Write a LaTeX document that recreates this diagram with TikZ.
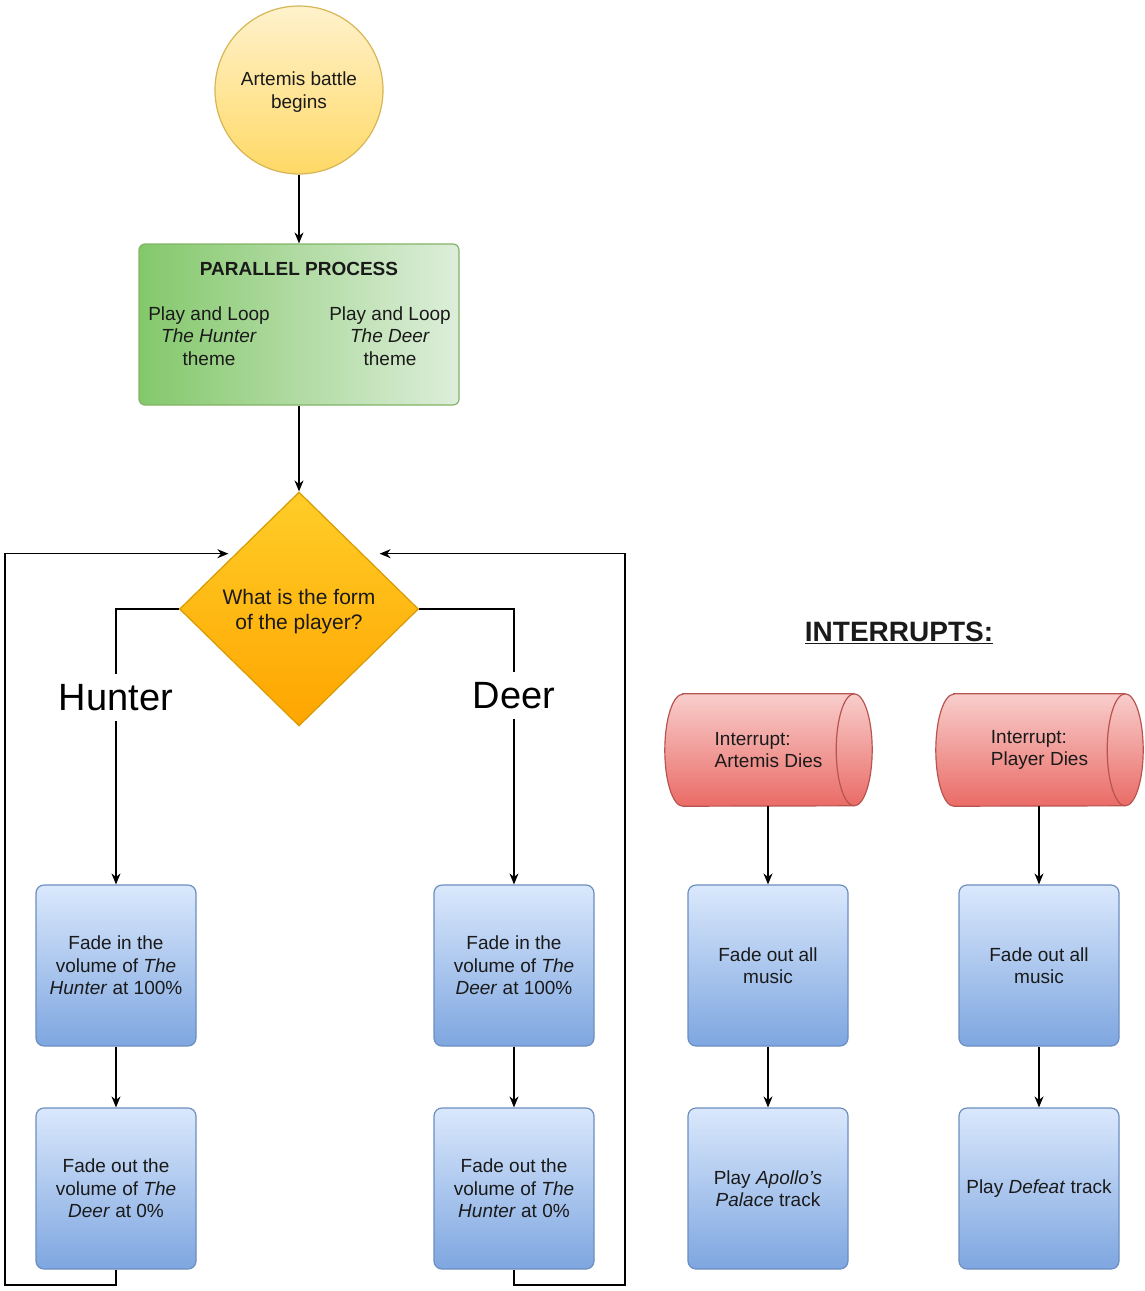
\documentclass[tikz,border=0pt]{standalone}
\usepackage{fontspec}
\setmainfont{Liberation Sans}
\usetikzlibrary{shapes.geometric,arrows.meta,calc,backgrounds}

\definecolor{yelTop}{HTML}{FFF2CC}
\definecolor{yelBot}{HTML}{FFD966}
\definecolor{yelLine}{HTML}{D6B656}
\definecolor{grnL}{HTML}{84C86B}
\definecolor{grnR}{HTML}{DDEEDA}
\definecolor{grnLine}{HTML}{82B366}
\definecolor{orTop}{HTML}{FFCD28}
\definecolor{orBot}{HTML}{FFA500}
\definecolor{orLine}{HTML}{D79B00}
\definecolor{redTop}{HTML}{F8CECC}
\definecolor{redBot}{HTML}{EA6B66}
\definecolor{redLine}{HTML}{B85450}
\definecolor{bluTop}{HTML}{DAE8FC}
\definecolor{bluBot}{HTML}{7EA6E0}
\definecolor{bluLine}{HTML}{6C8EBF}
\definecolor{txtcol}{HTML}{1A1A1A}

\begin{document}
\begin{tikzpicture}[x=1pt,y=-1pt,
  txt/.style={font=\fontsize{19}{22.5}\selectfont, align=center, text=txtcol},
  boldtxt/.style={font=\fontsize{19}{22.5}\selectfont\bfseries, align=center, text=txtcol},
  startnode/.style={circle, draw=yelLine, line width=1.2pt, top color=yelTop, bottom color=yelBot, minimum size=168pt, inner sep=0pt},
  parbox/.style={rectangle, rounded corners=6pt, draw=grnLine, line width=1.2pt, left color=grnL, right color=grnR, minimum width=320pt, minimum height=161pt},
  decide/.style={diamond, draw=orLine, line width=1.2pt, top color=orTop, bottom color=orBot, minimum width=239pt, minimum height=234pt, inner sep=0pt, aspect=1},
  dtxt/.style={font=\fontsize{21}{25}\selectfont, align=center, text=txtcol},
  stepbox/.style={rectangle, rounded corners=8pt, draw=bluLine, line width=1.2pt, top color=bluTop, bottom color=bluBot, minimum width=160pt, minimum height=161pt, txt},
  cylnode/.style={rectangle, minimum width=207pt, minimum height=112pt, inner sep=0pt, txt, align=left},
  conn/.style={line width=1.3pt, draw=black, -{Stealth[length=11pt,width=9pt]}},
  branchlbl/.style={fill=white, font=\fontsize{38}{40}\selectfont, inner xsep=2pt, inner ysep=10pt, text=black}
]
\useasboundingbox (0,0) rectangle (1144,1291);

% main flow
\node[startnode] (start) at (299,90) {};
\node[txt] (starttxt) at (299,92) {Artemis battle\\begins};
\node[parbox] (par) at (299,324.5) {};
\node[boldtxt] (partitle) at (299,269) {PARALLEL PROCESS};
\node[txt] (parl) at (209,336) {Play and Loop\\\textit{The Hunter}\\theme};
\node[txt] (parr) at (390,336) {Play and Loop\\\textit{The Deer}\\theme};
\node[decide] (dia) at (299,609) {};
\node[dtxt] (diatxt) at (299,612) {What is the form\\of the player?};

\node[stepbox] (h1) at (116,965.5) {Fade in the\\volume of \textit{The}\\\textit{Hunter} at 100\%};
\node[stepbox] (h2) at (116,1188.5) {Fade out the\\volume of \textit{The}\\\textit{Deer} at 0\%};
\node[stepbox] (d1) at (514,965.5) {Fade in the\\volume of \textit{The}\\\textit{Deer} at 100\%};
\node[stepbox] (d2) at (514,1188.5) {Fade out the\\volume of \textit{The}\\\textit{Hunter} at 0\%};

% interrupts
\node[font=\fontsize{28}{30}\selectfont\bfseries, text=txtcol] (intr) at (899,633) {\underline{INTERRUPTS:}};
\node[cylnode] (cyl1) at (768.5,750) {Interrupt:\\Artemis Dies};
\node[cylnode] (cyl2) at (1039.5,750) {Interrupt:\\Player Dies};
\begin{scope}[on background layer]
\foreach \c in {cyl1,cyl2} {
  \shade[top color=redTop, bottom color=redBot, draw=redLine, line width=1.2pt]
    ($(\c.north west)+(18,0)$) -- ($(\c.north east)+(-18,0)$)
    arc[start angle=-90, end angle=90, x radius=18, y radius=56]
    -- ($(\c.south west)+(18,0)$)
    arc[start angle=90, end angle=270, x radius=18, y radius=56] -- cycle;
  \draw[redLine, line width=1.2pt] ($(\c.north east)+(-18,0)$)
    arc[start angle=270, end angle=90, x radius=18, y radius=56];
}
\end{scope}
\node[stepbox] (a1) at (768,965.5) {Fade out all\\music};
\node[stepbox] (a2) at (768,1188.5) {Play \textit{Apollo's}\\\textit{Palace} track};
\node[stepbox] (p1) at (1039,965.5) {Fade out all\\music};
\node[stepbox] (p2) at (1039,1188.5) {Play \textit{Defeat} track};

% connectors
\draw[conn] (start) -- (par);
\draw[conn] (par) -- (dia);
\draw[conn] (dia.west) -| node[branchlbl, pos=0.661] {Hunter} (h1.north);
\draw[conn] (dia.east) -| node[branchlbl, pos=0.657] {Deer} (d1.north);
\draw[conn] (h1) -- (h2);
\draw[conn] (d1) -- (d2);
\coordinate (lloop) at (5,1285);
\coordinate (rloop) at (625,1285);
\draw[conn, shorten >=7pt] (h2.south) |- (lloop) |- (dia.139);
\draw[conn, shorten >=17pt] (d2.south) |- (rloop) |- (dia.41);

\draw[conn] (cyl1.south -| a1.north) -- (a1.north);
\draw[conn] (a1) -- (a2);
\draw[conn] (cyl2.south -| p1.north) -- (p1.north);
\draw[conn] (p1) -- (p2);
\end{tikzpicture}
\end{document}
